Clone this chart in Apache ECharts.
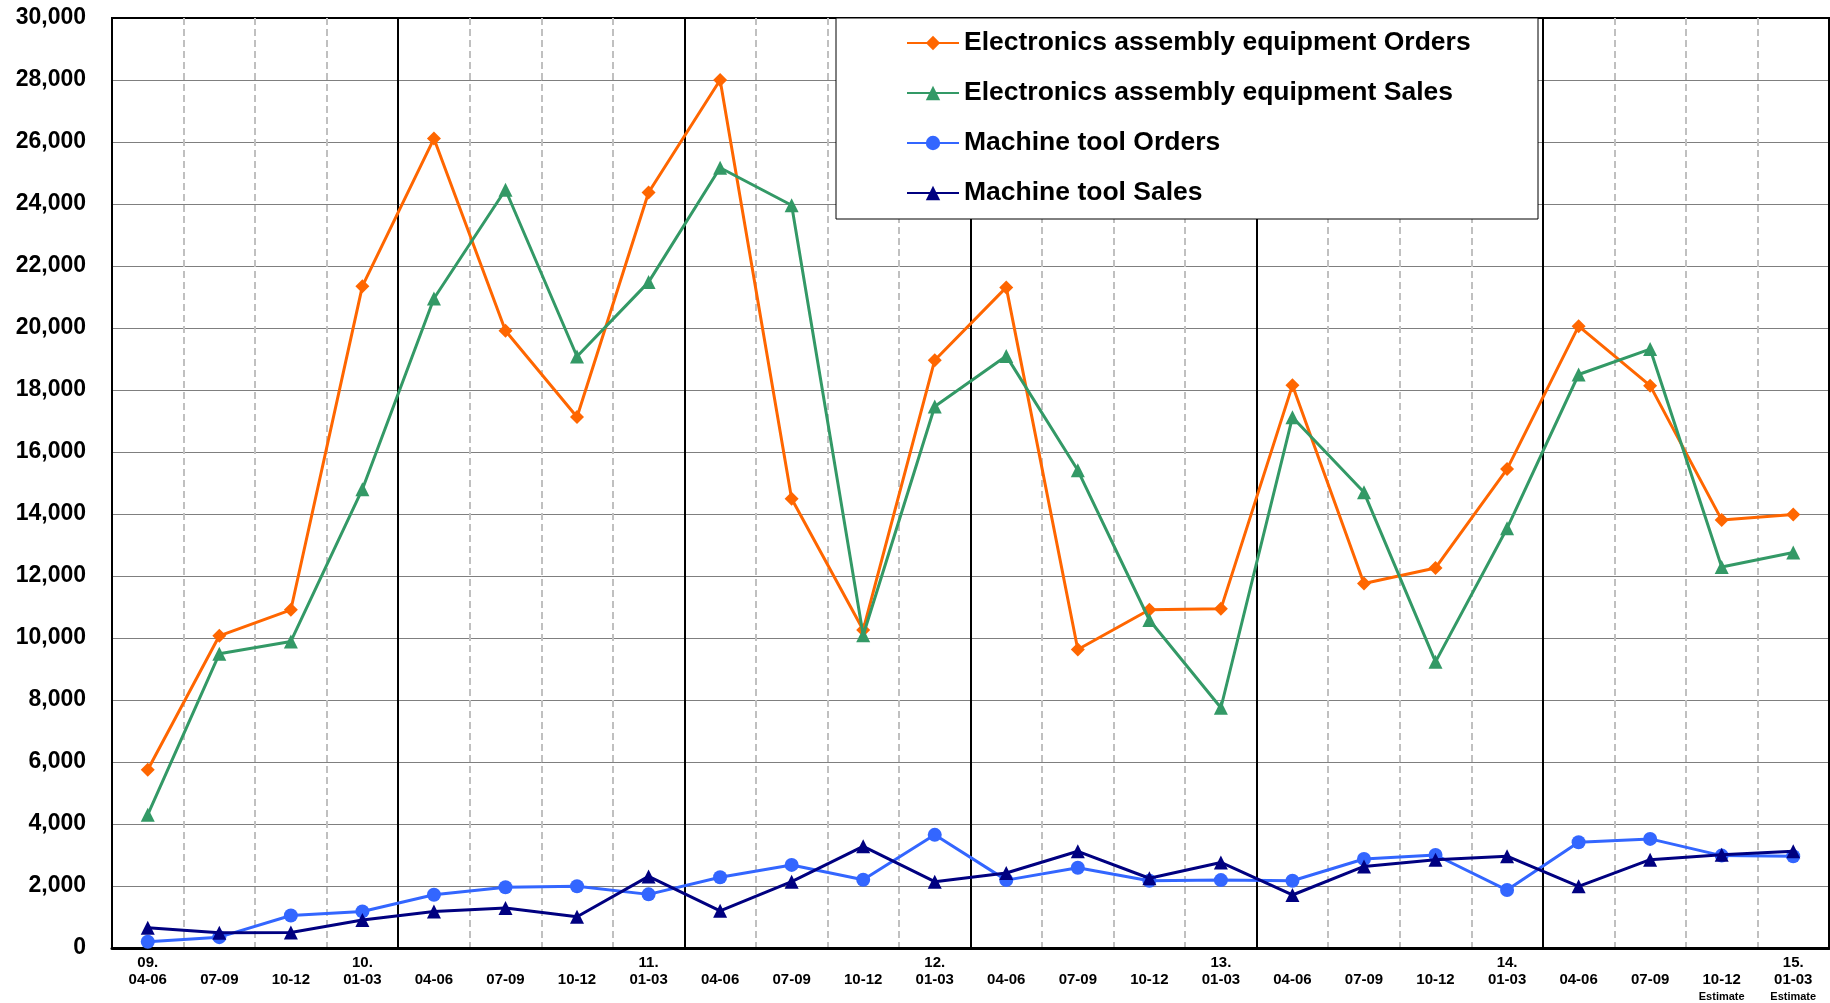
<!DOCTYPE html>
<html>
<head>
<meta charset="utf-8">
<title>Electronics assembly equipment / Machine tool — Orders and Sales</title>
<script src="https://cdn.jsdelivr.net/npm/echarts@6/dist/echarts.min.js"></script>
<style>
  html, body { margin: 0; padding: 0; background: #fff; }
  #chart { width: 1830px; height: 1003px; }
</style>
</head>
<body>
<div id="chart"></div>
<script>
// Quarter periods (fiscal years start in April)
const periods = [
  '04-06', '07-09', '10-12', '01-03',
  '04-06', '07-09', '10-12', '01-03',
  '04-06', '07-09', '10-12', '01-03',
  '04-06', '07-09', '10-12', '01-03',
  '04-06', '07-09', '10-12', '01-03',
  '04-06', '07-09', '10-12', '01-03'
];
// Calendar-year marker printed above the first quarter of each year
const yearMarks = [
  '09.', '', '', '10.', '', '', '', '11.', '', '', '', '12.',
  '', '', '', '13.', '', '', '', '14.', '', '', '', '15.'
];
// Third label line for forecast quarters
const notes = [
  '', '', '', '', '', '', '', '', '', '', '', '',
  '', '', '', '', '', '', '', '', '', '', 'Estimate', 'Estimate'
];

const elecOrders = [
  5750, 10070, 10910, 21350, 26110, 19910, 17130, 24370,
  28000, 14490, 10260, 18960, 21310, 9630, 10910, 10940,
  18150, 11760, 12260, 15450, 20060, 18140, 13810, 13980
];
const elecSales = [
  4300, 9490, 9890, 14800, 20950, 24460, 19080, 21480,
  25170, 23960, 10090, 17470, 19100, 15410, 10580, 7750,
  17120, 14700, 9230, 13540, 18500, 19320, 12290, 12760
];
const toolOrders = [
  200, 350, 1050, 1180, 1720, 1960, 1990, 1730,
  2280, 2680, 2200, 3650, 2190, 2590, 2170, 2190,
  2170, 2870, 3000, 1870, 3410, 3520, 2980, 2960
];
const toolSales = [
  650, 490, 500, 900, 1180, 1290, 1010, 2310,
  1200, 2140, 3280, 2140, 2420, 3120, 2250, 2760,
  1710, 2630, 2850, 2960, 1990, 2850, 3010, 3120
];

const yTicks = { min: 0, max: 30000, step: 2000 };

const seriesNames = [
  'Electronics assembly equipment Orders',
  'Electronics assembly equipment Sales',
  'Machine tool Orders',
  'Machine tool Sales'
];
const seriesColors = ['#FF6600', '#339966', '#3366FF', '#000080'];
const seriesSymbols = ['diamond', 'triangle', 'circle', 'triangle'];
const seriesSizes = [14, 14, 14, 14];
const seriesData = [elecOrders, elecSales, toolOrders, toolSales];

const gridLineCount = (yTicks.max - yTicks.min) / yTicks.step + 1;
const gridColors = [];
for (let i = 0; i < gridLineCount; i++) gridColors.push(i === gridLineCount - 1 ? '#000' : '#7f7f7f');

const chart = echarts.init(document.getElementById('chart'), null, { renderer: 'canvas' });

const option = {
  animation: false,
  backgroundColor: '#fff',
  grid: {
    left: 112, right: 1, top: 18, bottom: 55,
    show: true, borderColor: '#000', borderWidth: 2, backgroundColor: 'transparent'
  },
  xAxis: [
    {
      type: 'category',
      data: periods,
      boundaryGap: true,
      position: 'bottom',
      axisLine: { show: true, lineStyle: { color: '#000', width: 3 } },
      axisTick: { show: false },
      splitLine: {
        show: true,
        interval: (i) => i > 0 && i < periods.length,
        lineStyle: { color: '#c0c0c0', width: 2, type: [7, 4] }
      },
      axisLabel: {
        interval: 0,
        margin: 6,
        formatter: (value, i) => {
          const y = yearMarks[i] || ' ';
          let s = '{y|' + y + '}\n{p|' + value + '}';
          if (notes[i]) s += '\n{e|' + notes[i] + '}';
          return s;
        },
        rich: {
          y: { fontFamily: 'Liberation Sans', fontWeight: 'bold', fontSize: 15, lineHeight: 17, color: '#000' },
          p: { fontFamily: 'Liberation Sans', fontWeight: 'bold', fontSize: 15, lineHeight: 17, color: '#000' },
          e: { fontFamily: 'Liberation Sans', fontWeight: 'bold', fontSize: 11, lineHeight: 17, color: '#000' }
        }
      }
    },
    {
      // fiscal-year separators
      type: 'category',
      data: periods,
      boundaryGap: true,
      position: 'bottom',
      axisLine: { show: false },
      axisTick: { show: false },
      axisLabel: { show: false },
      splitLine: {
        show: true,
        interval: (i) => i > 0 && i < periods.length && i % 4 === 0,
        lineStyle: { color: '#000', width: 2, type: 'solid' }
      }
    }
  ],
  yAxis: {
    type: 'value',
    min: yTicks.min,
    max: yTicks.max,
    interval: yTicks.step,
    axisLine: { show: true, lineStyle: { color: '#000', width: 2 } },
    axisTick: { show: false },
    splitLine: { show: true, lineStyle: { color: gridColors, width: 1 } },
    axisLabel: {
      margin: 26,
      fontFamily: 'Liberation Sans',
      fontWeight: 'bold',
      fontSize: 23,
      color: '#000',
      formatter: (v) => v.toLocaleString('en-US')
    }
  },
  legend: {
    data: seriesNames,
    orient: 'vertical',
    left: 906,
    top: 27,
    itemWidth: 52,
    itemHeight: 18,
    itemGap: 18,
    padding: 0,
    z: 5,
    textStyle: {
      fontFamily: '"Liberation Sans", Arial, sans-serif',
      fontWeight: 'bold',
      fontSize: 26.5,
      lineHeight: 32,
      color: '#000'
    }
  },
  graphic: [
    {
      type: 'rect',
      z: 4,
      shape: { x: 836, y: 18, width: 702, height: 201 },
      style: { fill: '#fff', stroke: '#000', lineWidth: 1 }
    }
  ],
  series: seriesNames.map((name, k) => ({
    name,
    type: 'line',
    data: seriesData[k],
    symbol: seriesSymbols[k],
    symbolSize: seriesSizes[k],
    color: seriesColors[k],
    lineStyle: { width: 3, color: seriesColors[k] },
    itemStyle: { color: seriesColors[k] },
    z: 2 + k * 0.01
  }))
};

chart.setOption(option);
</script>
</body>
</html>
